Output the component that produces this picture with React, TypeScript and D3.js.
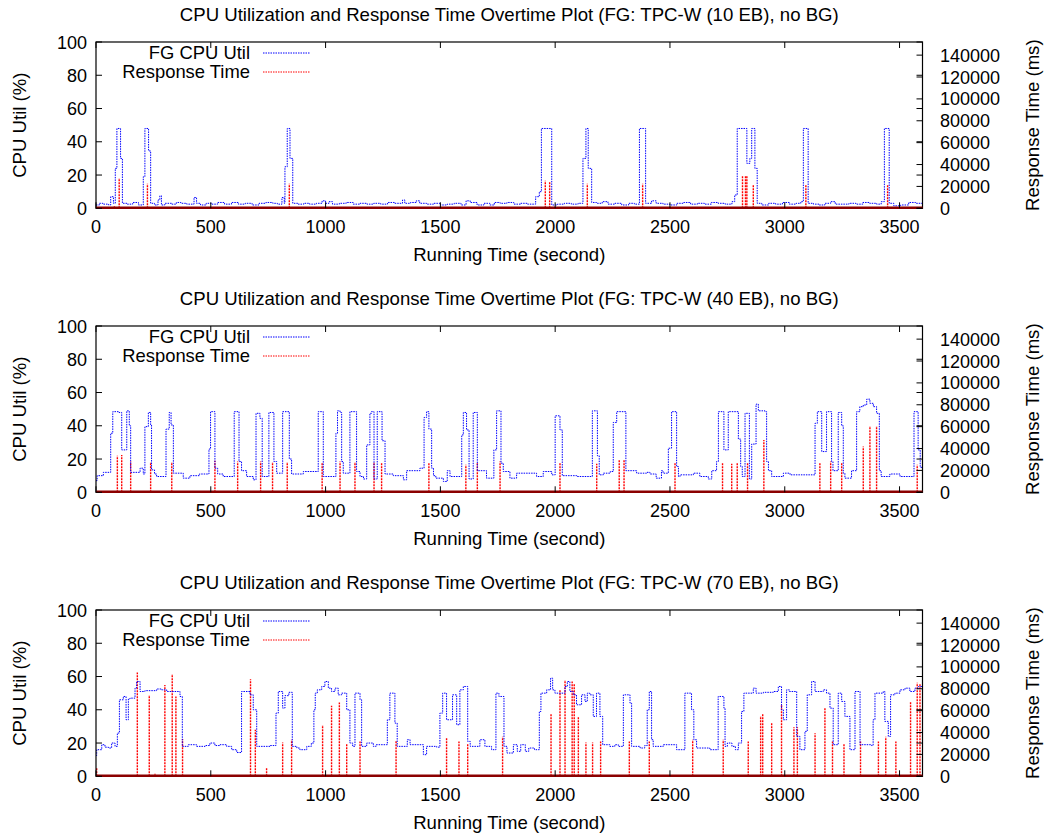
import React from 'react';
import * as d3 from 'd3';

// CPU utilisation as step change points [second, percent]
const cpu10: [number, number][] = [
  [0, 2], [15, 3], [30, 2.5], [55, 2], [64, 7], [76, 3], [84, 24], [91, 48], [107, 30], [115, 3],
  [135, 2.5], [160, 3.5], [185, 2], [206, 19], [213, 48], [229, 34.5], [238, 3], [255, 2], [270, 5],
  [278, 7.5], [285, 2], [300, 3], [330, 2.5], [350, 3.5], [370, 3], [395, 2.5], [427, 6.5], [438, 3],
  [455, 2], [480, 3], [505, 2.5], [530, 3.5], [560, 2.5], [590, 3.5], [620, 2.5], [650, 3], [680, 2],
  [710, 3], [740, 3.5], [770, 3], [790, 2.5], [810, 6.5], [820, 3], [823, 25], [833, 48], [845, 30],
  [857, 3], [880, 2.5], [905, 3], [930, 2.5], [960, 3], [985, 4.5], [1000, 3], [1015, 4], [1030, 2.5],
  [1060, 3], [1090, 3.5], [1120, 2.5], [1150, 3], [1180, 2.5], [1210, 3], [1240, 2.5], [1270, 3.5],
  [1300, 3], [1335, 5], [1345, 3], [1370, 3.5], [1395, 4.5], [1410, 3], [1440, 2.5], [1470, 3],
  [1500, 2], [1530, 2.5], [1560, 3], [1590, 2], [1612, 4.5], [1630, 3.5], [1660, 2], [1690, 3],
  [1715, 2], [1735, 3.5], [1760, 3], [1790, 3.5], [1820, 2.5], [1850, 3], [1880, 2.5], [1915, 7],
  [1931, 10], [1940, 48], [1985, 2], [2010, 2.5], [2040, 3], [2070, 2.5], [2100, 3], [2121, 30],
  [2134, 48], [2144, 24], [2159, 3.5], [2180, 3], [2205, 4], [2230, 2.5], [2260, 3], [2290, 2],
  [2320, 3], [2345, 2.5], [2367, 48], [2394, 3], [2420, 4.5], [2440, 3], [2470, 2.5], [2500, 2],
  [2530, 3], [2560, 3.5], [2590, 2.5], [2620, 3], [2650, 2.5], [2680, 3.5], [2710, 3], [2740, 2.5],
  [2770, 4], [2782, 8], [2793, 48], [2835, 27], [2848, 30], [2856, 48], [2870, 24], [2880, 3],
  [2900, 2], [2930, 3], [2960, 2.5], [2990, 3.5], [3020, 2.5], [3050, 3], [3070, 4], [3081, 48],
  [3102, 3], [3125, 2.5], [3150, 2], [3175, 3], [3200, 4], [3220, 2.5], [3250, 2.5], [3280, 3],
  [3310, 2.5], [3340, 3.5], [3370, 3], [3400, 2.5], [3420, 4], [3434, 48], [3455, 3], [3475, 1.5],
  [3505, 2], [3540, 3.5], [3570, 3], [3600, 3],
];

const cpu40: [number, number][] = [
  [0, 7], [5, 10], [32, 12], [64, 35.5], [73, 48.5], [100, 48], [112, 25.5], [134, 49], [145, 40],
  [151, 12], [192, 14.5], [206, 11], [213, 39.5], [228, 48], [238, 40.5], [242, 13.5], [255, 11],
  [264, 9.5], [305, 38], [319, 48], [327, 40.5], [337, 11.5], [380, 8.5], [409, 10], [450, 11],
  [492, 26], [499, 48.5], [518, 14.5], [530, 11], [554, 9.5], [602, 48.5], [623, 18.5], [634, 13],
  [656, 9.5], [685, 7.5], [697, 47.5], [714, 44.5], [724, 9.5], [753, 48], [775, 18.5], [787, 11.5],
  [813, 48.5], [842, 20], [852, 11], [903, 12.5], [968, 48.5], [990, 9.5], [1045, 35.5], [1052, 49],
  [1063, 48], [1070, 18.5], [1077, 11.5], [1106, 48.5], [1135, 12.5], [1150, 9.5], [1165, 8],
  [1179, 28.5], [1193, 47.5], [1200, 48.5], [1211, 8], [1225, 48.5], [1246, 31], [1259, 11],
  [1295, 10], [1339, 7.5], [1353, 13], [1411, 14.5], [1429, 45], [1440, 48.5], [1450, 38],
  [1462, 14.5], [1470, 10], [1480, 8.5], [1513, 6.5], [1530, 13], [1542, 9.5], [1593, 34.5],
  [1600, 48], [1614, 37.5], [1625, 8], [1643, 48], [1661, 13], [1701, 8.5], [1733, 25.5], [1745, 49],
  [1764, 17.5], [1774, 12.5], [1803, 8.5], [1832, 11.5], [1919, 9.5], [1948, 12.5], [1985, 10.5],
  [2000, 46], [2021, 37.5], [2031, 10], [2094, 9.5], [2162, 49], [2184, 22], [2192, 10.5],
  [2210, 11.5], [2240, 12.5], [2253, 42], [2268, 48.5], [2308, 13], [2355, 11.5], [2398, 12],
  [2413, 11], [2440, 8.5], [2463, 13], [2470, 11.5], [2493, 26.5], [2507, 48.5], [2529, 15.5],
  [2537, 9.5], [2544, 10.5], [2602, 11.5], [2630, 9.5], [2667, 8], [2682, 13], [2703, 18.5],
  [2711, 48.5], [2735, 25.5], [2754, 48.5], [2798, 32], [2808, 15.5], [2815, 9.5], [2827, 47.5],
  [2846, 8], [2856, 29], [2875, 53], [2885, 49], [2914, 48.5], [2921, 18.5], [2929, 13], [2943, 9.5],
  [2994, 11.5], [3023, 10.5], [3132, 41.5], [3142, 48.5], [3161, 24.5], [3182, 48.5], [3204, 18.5],
  [3210, 13], [3233, 48], [3248, 40], [3255, 11.5], [3262, 8.5], [3291, 13], [3313, 48.5],
  [3327, 51.5], [3342, 52.5], [3357, 56], [3371, 53.5], [3386, 51.5], [3400, 47.5], [3412, 13],
  [3420, 9.5], [3458, 11], [3502, 9.5], [3563, 48.5], [3581, 25.5], [3590, 15], [3600, 15],
];

const cpu70: [number, number][] = [
  [0, 12.5], [3, 16], [25, 19], [39, 17.5], [54, 17], [68, 20], [83, 18], [93, 26], [102, 46],
  [119, 48], [131, 34], [141, 46.5], [148, 47], [170, 53], [177, 57], [192, 51], [213, 51.5],
  [264, 52.5], [286, 52], [308, 51], [366, 48], [376, 18], [402, 19], [438, 18], [475, 18.5],
  [496, 20], [518, 18.5], [540, 19], [569, 18], [591, 16], [613, 14.3], [634, 51], [671, 49],
  [685, 40], [700, 18], [758, 18.5], [784, 38], [794, 51], [813, 41], [823, 48.5], [840, 50.5],
  [855, 18], [875, 17], [888, 16], [918, 18], [938, 20], [949, 40], [955, 50], [964, 52], [983, 54],
  [997, 57], [1012, 53], [1026, 51], [1041, 53], [1055, 49], [1070, 50], [1092, 40], [1106, 20],
  [1118, 18], [1128, 50], [1150, 46], [1157, 18], [1179, 20], [1208, 18], [1220, 19], [1269, 34],
  [1280, 50], [1302, 32], [1312, 18], [1356, 22], [1368, 19], [1426, 13], [1440, 18], [1484, 17.5],
  [1498, 38], [1510, 50], [1527, 34], [1553, 49], [1571, 31], [1585, 52], [1600, 54], [1619, 21],
  [1630, 18], [1672, 22], [1694, 18], [1723, 16], [1742, 50], [1755, 48], [1777, 18], [1790, 14],
  [1818, 19], [1835, 15], [1850, 19], [1870, 15], [1885, 17], [1910, 16], [1931, 39], [1938, 50],
  [1963, 52], [1980, 59], [1989, 52], [1999, 50], [2043, 54], [2053, 57], [2064, 51], [2079, 49],
  [2093, 43], [2115, 49], [2130, 45], [2140, 50], [2151, 49], [2166, 36], [2180, 50], [2195, 36],
  [2207, 19], [2238, 18], [2260, 19], [2275, 18], [2297, 49], [2326, 44], [2333, 18], [2370, 17],
  [2390, 18.5], [2401, 40], [2410, 51], [2420, 22], [2427, 18], [2471, 19], [2529, 16], [2565, 50],
  [2594, 40], [2604, 22], [2616, 17], [2674, 16], [2710, 48], [2735, 41], [2740, 18], [2750, 20],
  [2770, 18], [2785, 16], [2798, 20], [2812, 39], [2822, 50], [2863, 53], [2875, 50], [2907, 50.5],
  [2950, 51], [2972, 54], [2986, 40], [2994, 34], [3008, 52], [3020, 51], [3052, 24], [3066, 16],
  [3088, 27], [3098, 49], [3117, 57], [3132, 51], [3168, 52], [3182, 50], [3197, 41], [3211, 19],
  [3233, 50], [3248, 45], [3262, 36], [3284, 16], [3306, 51], [3328, 19], [3378, 18.5], [3385, 34],
  [3393, 50], [3429, 51], [3436, 33], [3451, 24], [3461, 49], [3480, 50], [3502, 52], [3524, 53],
  [3545, 51], [3567, 53], [3582, 54], [3600, 54],
];

// response time spikes [second, ms]
const rt10: [number, number][] = [
  [80, 2500], [101, 27600], [224, 22400], [842, 22400], [1957, 25100], [1976, 24600], [2140, 22400],
  [2381, 22400], [2816, 30200], [2829, 29700], [2835, 29700], [2863, 21500], [3092, 21500], [3448, 21500],
];

const rt40: [number, number][] = [
  [93, 33300], [112, 34000], [151, 28100], [238, 27600], [330, 27600], [518, 28900], [617, 28100],
  [717, 28100], [769, 27600], [833, 27600], [985, 27000], [1063, 28100], [1128, 27600], [1211, 27600],
  [1244, 26600], [1450, 27100], [1611, 25100], [1661, 26600], [1760, 28100], [2021, 26600],
  [2181, 26100], [2279, 30000], [2300, 30300], [2522, 26600], [2729, 26600], [2769, 26100],
  [2793, 27100], [2838, 26600], [2909, 47900], [3153, 27100], [3200, 28100], [3248, 26600],
  [3342, 41800], [3371, 60700], [3400, 60700], [3577, 25100],
];

const rt70: [number, number][] = [
  [3, 7500], [180, 94800], [232, 74400], [257, 3000], [300, 83500], [332, 93600], [348, 72900],
  [377, 34000], [673, 88700], [694, 42500], [743, 7500], [813, 30900], [852, 33300], [987, 47000],
  [1026, 64400], [1060, 67400], [1092, 30300], [1150, 31800], [1307, 32700], [1527, 35800],
  [1581, 31800], [1619, 30300], [1771, 36200], [1982, 57700], [2021, 79000], [2043, 88100],
  [2074, 86600], [2083, 85000], [2101, 54600], [2134, 30900], [2163, 30900], [2198, 31800],
  [2323, 31800], [2410, 31800], [2599, 33300], [2732, 33300], [2841, 31800], [2895, 55200],
  [2904, 57700], [2943, 49100], [2986, 65300], [3040, 44900], [3055, 44900], [3132, 39400],
  [3175, 63100], [3208, 31800], [3258, 30300], [3330, 31800], [3408, 31800], [3440, 36200],
  [3484, 31800], [3548, 68300], [3577, 85600], [3589, 85000],
];

const titles = [
  'CPU Utilization and Response Time Overtime Plot (FG: TPC-W (10 EB), no BG)',
  'CPU Utilization and Response Time Overtime Plot (FG: TPC-W (40 EB), no BG)',
  'CPU Utilization and Response Time Overtime Plot (FG: TPC-W (70 EB), no BG)',
];
const cpuSeries = [cpu10, cpu40, cpu70];
const rtSeries = [rt10, rt40, rt70];
const y2Ticks = [0, 20000, 40000, 60000, 80000, 100000, 120000, 140000];

const FONT = '"Liberation Sans", Arial, sans-serif';
const LEFT = 96;
const RIGHT = 922.5;
const PH = 166.3;
const TICK = 6;
const LABEL_SIZE = 18.6;

function Panel({ top, title, cpu, rt }: { top: number; title: string; cpu: [number, number][]; rt: [number, number][] }) {
  const x = d3.scaleLinear().domain([0, 3600]).range([LEFT, RIGHT]);
  const y = d3.scaleLinear().domain([0, 100]).range([top + PH, top]);
  const y2 = d3.scaleLinear().domain([0, 152000]).range([top + PH, top]);
  const bottom = top + PH;
  const line = d3.line<[number, number]>()
    .x(d => x(d[0]))
    .y(d => y(d[1]))
    .curve(d3.curveStepAfter);
  const cx = (LEFT + RIGHT) / 2;

  return (
    <g fontFamily={FONT} fontSize={18} fill="#000">
      <text x={cx} y={top - 21} textAnchor="middle" fontSize={LABEL_SIZE}>{title}</text>

      {/* legend */}
      <text x={250} y={top + 17} textAnchor="end" fontSize={18.4}>FG CPU Util</text>
      <line x1={263} x2={310} y1={top + 11} y2={top + 11} stroke="#0000ff" strokeDasharray="1.5,1" />
      <text x={250} y={top + 36} textAnchor="end" fontSize={18.4}>Response Time</text>
      <line x1={263} x2={310} y1={top + 30} y2={top + 30} stroke="#ff0000" strokeDasharray="1.5,1" />

      {/* response time spikes */}
      {rt.map(([t, v], i) => (
        <line key={i} x1={x(t)} x2={x(t)} y1={bottom} y2={y2(v)} stroke="#ff0000" strokeWidth={1.4} strokeDasharray="2,1" />
      ))}

      {/* cpu line */}
      <path d={line(cpu) || ''} fill="none" stroke="#0000ff" strokeWidth={1} strokeDasharray="1.5,1" />

      {/* frame */}
      <rect x={LEFT} y={top} width={RIGHT - LEFT} height={PH} fill="none" stroke="#000" strokeWidth={1.2} />
      <line x1={LEFT} x2={RIGHT} y1={bottom - 0.5} y2={bottom - 0.5} stroke="#8b0000" strokeWidth={2.4} />

      {/* x ticks */}
      {x.ticks(8).map(t => (
        <g key={'x' + t}>
          <line x1={x(t)} x2={x(t)} y1={bottom} y2={bottom - TICK} stroke="#000" />
          <line x1={x(t)} x2={x(t)} y1={top} y2={top + TICK} stroke="#000" />
          <text x={x(t)} y={bottom + 25} textAnchor="middle">{t}</text>
        </g>
      ))}

      {/* y ticks */}
      {y.ticks(5).map(t => (
        <g key={'y' + t}>
          <line x1={LEFT} x2={LEFT + TICK} y1={y(t)} y2={y(t)} stroke="#000" />
          <line x1={RIGHT} x2={RIGHT - TICK} y1={y(t)} y2={y(t)} stroke="#000" />
          <text x={LEFT - 9} y={y(t) + 6.5} textAnchor="end">{t}</text>
        </g>
      ))}

      {/* y2 ticks */}
      {y2Ticks.map(t => (
        <g key={'y2' + t}>
          <line x1={RIGHT} x2={RIGHT - TICK} y1={y2(t)} y2={y2(t)} stroke="#000" />
          <text x={940} y={y2(t) + 6.5} textAnchor="start">{t}</text>
        </g>
      ))}

      <text x={cx} y={bottom + 53} textAnchor="middle" fontSize={LABEL_SIZE}>Running Time (second)</text>
      <text transform={`translate(26, ${top + PH / 2}) rotate(-90)`} textAnchor="middle" fontSize={LABEL_SIZE}>CPU Util (%)</text>
      <text transform={`translate(1039, ${top + PH / 2}) rotate(-90)`} textAnchor="middle" fontSize={LABEL_SIZE}>Response Time (ms)</text>
    </g>
  );
}

export default function App() {
  const tops = [42, 326, 610];
  return (
    <svg width={1044} height={838} style={{ position: 'absolute', left: 0, top: 0, background: '#fff' }}>
      <rect width={1044} height={838} fill="#fff" />
      {tops.map((top, i) => (
        <Panel key={i} top={top} title={titles[i]} cpu={cpuSeries[i]} rt={rtSeries[i]} />
      ))}
    </svg>
  );
}
